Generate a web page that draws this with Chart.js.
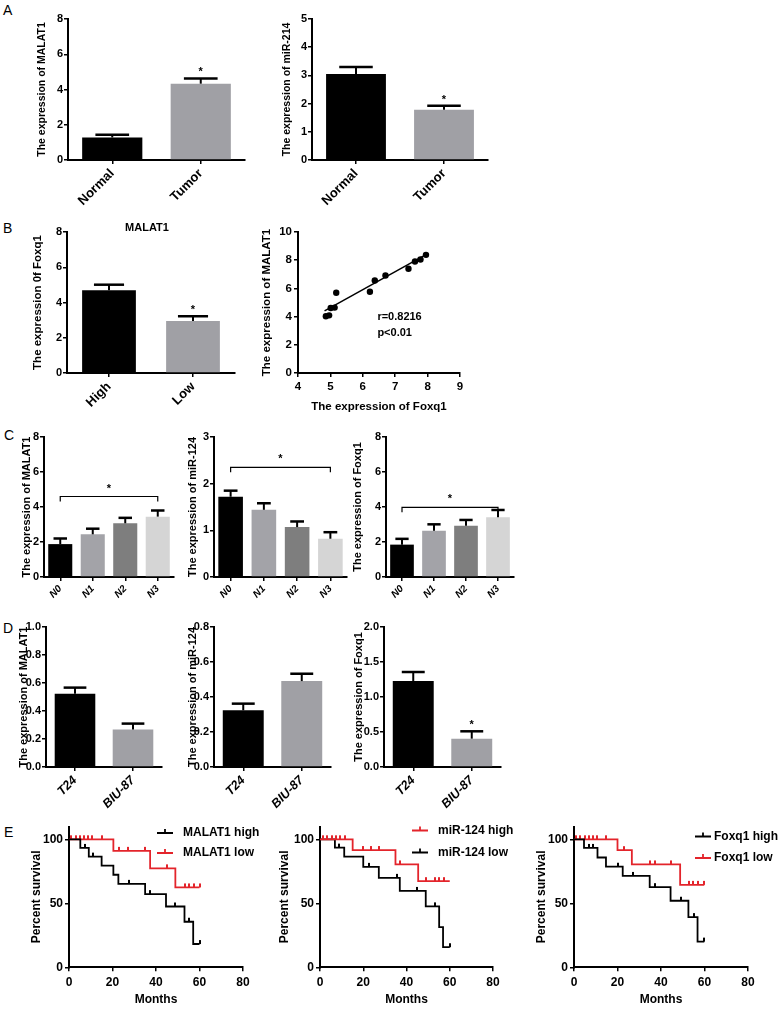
<!DOCTYPE html>
<html>
<head>
<meta charset="utf-8">
<title>MALAT1 / miR-124 / Foxq1</title>
<script src="https://cdn.jsdelivr.net/npm/chart.js@4.4.1/dist/chart.umd.min.js"></script>
<style>
  html, body { margin: 0; padding: 0; background: #fff; }
  #fig { position: relative; width: 780px; height: 1012px; overflow: hidden; background: #fff; }
  #fig canvas { position: absolute; }
  .tag { position: absolute; font-family: "Liberation Sans", Arial, sans-serif; font-size: 14px; line-height: 14px; color: #000; }
</style>
</head>
<body>
<div id="fig">
  <div class="tag" style="left:3px;top:3px">A</div>
  <div class="tag" style="left:3px;top:221px">B</div>
  <div class="tag" style="left:4px;top:428px">C</div>
  <div class="tag" style="left:3px;top:621px">D</div>
  <div class="tag" style="left:4px;top:825px">E</div>
</div>
<script>
// ---- A: tissue expression
var aLabels = ['Normal', 'Tumor'];
var aMalat1 = [1.28, 4.33];
var aMalat1Err = [0.15, 0.30];
var aMir214 = [3.05, 1.78];
var aMir214Err = [0.25, 0.14];

// ---- B: MALAT1 high / low and correlation
var bLabels = ['High', 'Low'];
var bFoxq1 = [4.69, 2.95];
var bFoxq1Err = [0.32, 0.27];
var bScatterX = [4.86, 4.96, 5.01, 5.13, 5.18, 6.22, 6.37, 6.70, 7.41, 7.61, 7.78, 7.95];
var bScatterY = [4.02, 4.09, 4.61, 4.64, 5.69, 5.76, 6.56, 6.92, 7.39, 7.91, 8.05, 8.38];
var bFitX = [4.82, 7.99];
var bFitY = [4.40, 8.45];
var bStats = ['r=0.8216', 'p<0.01'];

// ---- C: N stage
var cLabels = ['N0', 'N1', 'N2', 'N3'];
var cMalat1 = [1.88, 2.44, 3.07, 3.45];
var cMalat1Err = [0.32, 0.32, 0.31, 0.35];
var cMir124 = [1.72, 1.44, 1.07, 0.82];
var cMir124Err = [0.13, 0.14, 0.12, 0.14];
var cFoxq1 = [1.85, 2.65, 2.93, 3.41];
var cFoxq1Err = [0.33, 0.36, 0.33, 0.42];
var cBracket = [4.6, 2.35, 3.98];

// ---- D: cell lines
var dLabels = ['T24', 'BIU-87'];
var dMalat1 = [0.524, 0.267];
var dMalat1Err = [0.043, 0.043];
var dMir124 = [0.324, 0.491];
var dMir124Err = [0.038, 0.042];
var dFoxq1 = [1.229, 0.405];
var dFoxq1Err = [0.128, 0.105];

// ---- E: survival (time in months, percent survival)
var kmYTicks = [0, 50, 100];
var e1HighT = [0, 5.2, 9.1, 15.0, 20.4, 22.7, 35.0, 44.6, 53.1, 57.1, 60];
var e1HighS = [100, 93.3, 86.5, 79.5, 72.3, 65.2, 57.2, 47.5, 35.6, 18.2, 18.2];
var e1HighCensT = [7.3, 11.1, 27.6, 37.3, 48.9, 55.1, 60];
var e1HighCensS = [93.3, 86.5, 65.2, 57.2, 47.5, 35.6, 18.2];
var e1LowT = [0, 20.4, 37.3, 48.9, 60];
var e1LowS = [100, 91.0, 77.3, 62.4, 62.4];
var e1LowCensT = [1.1, 3.1, 4.9, 6.9, 8.8, 10.8, 15.0, 23.0, 27.3, 35.0, 45.0, 53.2, 55.2, 57.4, 60];
var e1LowCensS = [100, 100, 100, 100, 100, 100, 100, 91.0, 91.0, 91.0, 77.3, 62.4, 62.4, 62.4, 62.4];

var e2HighT = [0, 15.1, 34.9, 45.4, 60];
var e2HighS = [100, 91.6, 80.4, 67.3, 67.3];
var e2HighCensT = [1.2, 3.4, 5.5, 7.4, 9.2, 11.5, 20.0, 23.8, 27.4, 37.2, 49.2, 53.1, 55.1, 57.2];
var e2HighCensS = [100, 100, 100, 100, 100, 100, 91.6, 91.6, 91.6, 80.4, 67.3, 67.3, 67.3, 67.3];
var e2LowT = [0, 6.9, 11.2, 20.0, 27.2, 36.9, 48.9, 55.1, 56.9, 60];
var e2LowS = [100, 93.5, 86.4, 78.5, 69.9, 59.7, 47.6, 31.4, 15.7, 15.7];
var e2LowCensT = [8.9, 22.8, 35.4, 44.9, 53.1, 60];
var e2LowCensS = [93.5, 78.5, 69.9, 59.7, 47.6, 15.7];

var e3HighT = [0, 4.6, 10.8, 14.7, 22.4, 34.8, 44.4, 52.6, 56.8, 59.9];
var e3HighS = [100, 93.3, 85.8, 78.6, 71.4, 62.6, 52.0, 39.2, 20.1, 20.1];
var e3HighCensT = [7.0, 8.8, 20.0, 26.9, 37.1, 49.0, 55.0, 59.9];
var e3HighCensS = [93.3, 93.3, 78.6, 71.4, 62.6, 52.0, 39.2, 20.1];
var e3LowT = [0, 20.0, 26.6, 48.8, 59.9];
var e3LowS = [100, 91.5, 80.4, 64.4, 64.4];
var e3LowCensT = [1.1, 2.9, 4.9, 6.8, 8.8, 10.8, 14.7, 22.8, 35.1, 37.1, 44.7, 52.9, 54.9, 57.1, 59.9];
var e3LowCensS = [100, 100, 100, 100, 100, 100, 100, 91.5, 80.4, 80.4, 80.4, 64.4, 64.4, 64.4, 64.4];

var BLACK = '#000000';
var GREY = '#a0a0a5';
var RED = '#e3242b';
var cColors = ['#000000', '#a3a3a8', '#7e7e7e', '#d5d5d5'];
var FONT = '"Liberation Sans", Arial, sans-serif';
var NARROW = '"Liberation Sans Narrow", "Arial Narrow", "Liberation Sans", Arial, sans-serif';

Chart.defaults.font.family = FONT;
Chart.defaults.font.weight = 'bold';
Chart.defaults.font.size = 11;
Chart.defaults.color = '#000';

// error bars, stars, brackets, small titles, KM legends, stat text
var panelExtras = {
  id: 'panelExtras',
  afterDatasetsDraw: function(chart, args, opts) {
    var ctx = chart.ctx, area = chart.chartArea;
    var ys = chart.scales.y, xs = chart.scales.x;
    ctx.save();
    ctx.strokeStyle = '#000';
    ctx.fillStyle = '#000';
    ctx.textAlign = 'center';
    ctx.font = 'bold 11px ' + FONT;
    if (opts.err) {
      var bars = chart.getDatasetMeta(0).data;
      var vals = chart.data.datasets[0].data;
      for (var i = 0; i < bars.length; i++) {
        var b = bars[i];
        var y0 = ys.getPixelForValue(vals[i]);
        var y1 = ys.getPixelForValue(vals[i] + opts.err[i]);
        var half = b.width * 0.28;
        ctx.lineWidth = 2;
        ctx.beginPath(); ctx.moveTo(b.x, y0); ctx.lineTo(b.x, y1); ctx.stroke();
        ctx.lineWidth = 2.5;
        ctx.beginPath(); ctx.moveTo(b.x - half, y1); ctx.lineTo(b.x + half, y1); ctx.stroke();
        if (opts.stars && opts.stars[i]) ctx.fillText('*', b.x, y1 - 3);
      }
      if (opts.bracket) {
        var yb = ys.getPixelForValue(opts.bracket);
        var xa = bars[0].x, xb = bars[bars.length - 1].x;
        ctx.lineWidth = 1.2;
        ctx.beginPath();
        ctx.moveTo(xa, yb + 5); ctx.lineTo(xa, yb); ctx.lineTo(xb, yb); ctx.lineTo(xb, yb + 5);
        ctx.stroke();
        ctx.fillText('*', (xa + xb) / 2, yb - 5);
      }
    }
    if (opts.title) ctx.fillText(opts.title, (area.left + area.right) / 2 - 4, area.top - 1);
    if (opts.stat) {
      ctx.textAlign = 'left';
      ctx.textBaseline = 'middle';
      for (var s = 0; s < opts.stat.length; s++) {
        ctx.fillText(opts.stat[s], xs.getPixelForValue(opts.statX), ys.getPixelForValue(opts.statY[s]));
      }
    }
    if (opts.legend) {
      ctx.textAlign = 'left';
      ctx.textBaseline = 'middle';
      ctx.font = 'bold 12px ' + FONT;
      for (var k = 0; k < opts.legend.length; k++) {
        var lx = area.left + opts.legendX, ly = area.top + opts.legendY[k];
        ctx.strokeStyle = opts.legendColors[k];
        ctx.lineWidth = 1.8;
        ctx.beginPath();
        ctx.moveTo(lx, ly); ctx.lineTo(lx + 16, ly);
        ctx.moveTo(lx + 8, ly); ctx.lineTo(lx + 8, ly - 4);
        ctx.stroke();
        ctx.fillStyle = '#000';
        ctx.fillText(opts.legend[k], lx + opts.legendTextDx, ly);
      }
    }
    ctx.restore();
  }
};
Chart.register(panelExtras);

function axisGrid() {
  return { offset: false, drawOnChartArea: false, drawTicks: true, tickLength: 4, color: '#000', lineWidth: 1.5 };
}
function axisBorder() {
  return { display: true, color: '#000', width: 2 };
}

// put a chart on the page so that its plot area lands on plot = [left, top, right, bottom]
function place(box, plot, ytx, xty, config) {
  var cv = document.createElement('canvas');
  cv.width = box[2];
  cv.height = box[3];
  cv.style.left = box[0] + 'px';
  cv.style.top = box[1] + 'px';
  document.getElementById('fig').appendChild(cv);
  var sc = config.options.scales;
  config.options.layout = { padding: { left: 0, top: plot[1] - box[1], right: box[0] + box[2] - plot[2], bottom: 0 } };
  sc.y.afterFit = function(s) { s.width = plot[0] - box[0]; };
  sc.x.afterFit = function(s) { s.height = box[1] + box[3] - plot[3]; };
  sc.y.title.padding = { top: ytx - box[0] - sc.y.title.font.size * 0.6, bottom: 0 };
  if (xty) {
    sc.x.title.padding = { top: 0, bottom: box[1] + box[3] - xty - sc.x.title.font.size * 0.6 };
  }
  return new Chart(cv, config);
}

// f = [tick font, category font, title font]
function barChart(labels, values, errs, colors, yMax, yStep, dec, yTitle, f, extra) {
  return {
    type: 'bar',
    data: {
      labels: labels,
      datasets: [{ data: values, backgroundColor: colors, borderWidth: 0, categoryPercentage: 1, barPercentage: extra.bp }]
    },
    options: {
      responsive: false, animation: false, devicePixelRatio: 1, events: [],
      plugins: {
        legend: { display: false }, tooltip: { enabled: false },
        panelExtras: { err: errs, stars: extra.stars, bracket: extra.bracket, title: extra.title }
      },
      scales: {
        x: {
          grid: axisGrid(), border: axisBorder(),
          ticks: { autoSkip: false, minRotation: 45, maxRotation: 45, padding: 2, font: { size: f[1], style: extra.italic ? 'italic' : 'normal' } }
        },
        y: {
          min: 0, max: yMax, grid: axisGrid(), border: axisBorder(),
          ticks: { stepSize: yStep, padding: 1, font: { size: f[0], family: extra.narrow ? NARROW : FONT }, callback: function(v) { return v.toFixed(dec); } },
          title: { display: true, text: yTitle, font: { size: f[2] } }
        }
      }
    }
  };
}

function tickMark(color) {
  var c = document.createElement('canvas');
  c.width = 2; c.height = 12;
  var g = c.getContext('2d');
  g.fillStyle = color;
  g.fillRect(0, 2, 2, 4);
  return c;
}
function pairs(xs, ys) {
  return xs.map(function(v, i) { return { x: v, y: ys[i] }; });
}
function kmCurve(t, s, color) {
  return { data: pairs(t, s), showLine: true, stepped: 'before', borderColor: color, borderWidth: 1.8, pointRadius: 0, pointHoverRadius: 0 };
}
function kmCensor(t, s, color) {
  return { data: pairs(t, s), showLine: false, pointStyle: tickMark(color), pointRadius: 3, pointHoverRadius: 3 };
}
function kmChart(datasets, legend, legendColors, lx, ly, ldx) {
  return {
    type: 'scatter',
    data: { datasets: datasets },
    options: {
      responsive: false, animation: false, devicePixelRatio: 1, events: [],
      plugins: {
        legend: { display: false }, tooltip: { enabled: false },
        panelExtras: { legend: legend, legendColors: legendColors, legendX: lx, legendY: ly, legendTextDx: ldx }
      },
      scales: {
        x: {
          type: 'linear', min: 0, max: 80, grid: axisGrid(), border: axisBorder(),
          ticks: { stepSize: 20, padding: 4, font: { size: 12 } },
          title: { display: true, text: 'Months', font: { size: 12 } }
        },
        y: {
          min: 0, max: 110, grid: axisGrid(), border: axisBorder(),
          ticks: { padding: 2, font: { size: 12 } },
          afterBuildTicks: function(s) { s.ticks = kmYTicks.map(function(v) { return { value: v }; }); },
          title: { display: true, text: 'Percent survival', font: { size: 12 } }
        }
      }
    }
  };
}

// ---- A
place([0, 0, 260, 215], [68, 19, 245, 160], 42, 0,
  barChart(aLabels, aMalat1, aMalat1Err, [BLACK, GREY], 8, 2, 0, 'The expression of MALAT1', [11, 13, 10.5], { bp: 0.68, stars: [false, true] }));
place([250, 0, 260, 215], [312, 19, 488, 160], 287, 0,
  barChart(aLabels, aMir214, aMir214Err, [BLACK, GREY], 5, 1, 0, 'The expression of miR-214', [11, 13, 10.5], { bp: 0.68, stars: [false, true] }));

// ---- B
place([0, 215, 255, 205], [67, 232, 235, 373], 38, 0,
  barChart(bLabels, bFoxq1, bFoxq1Err, [BLACK, GREY], 8, 2, 0, 'The expression 0f Foxq1', [11, 13, 11.5], { bp: 0.64, stars: [false, true], title: 'MALAT1' }));
place([250, 215, 230, 205], [298, 232, 460, 373], 267, 407, {
  type: 'scatter',
  data: {
    datasets: [
      { data: pairs(bScatterX, bScatterY), backgroundColor: BLACK, borderWidth: 0, pointRadius: 3.2 },
      { data: pairs(bFitX, bFitY), showLine: true, borderColor: BLACK, borderWidth: 1.5, pointRadius: 0 }
    ]
  },
  options: {
    responsive: false, animation: false, devicePixelRatio: 1, events: [],
    plugins: {
      legend: { display: false }, tooltip: { enabled: false },
      panelExtras: { stat: bStats, statX: 6.45, statY: [3.95, 2.83] }
    },
    scales: {
      x: {
        type: 'linear', min: 4, max: 9, grid: axisGrid(), border: axisBorder(),
        ticks: { stepSize: 1, padding: 3, font: { size: 11.5 } },
        title: { display: true, text: 'The expression of Foxq1', font: { size: 11.5 } }
      },
      y: {
        min: 0, max: 10, grid: axisGrid(), border: axisBorder(),
        ticks: { stepSize: 2, padding: 2, font: { size: 11.5 } },
        title: { display: true, text: 'The expression of MALAT1', font: { size: 11.5 } }
      }
    }
  }
});

// ---- C
place([0, 425, 190, 190], [44, 437, 174, 577], 27, 0,
  barChart(cLabels, cMalat1, cMalat1Err, cColors, 8, 2, 0, 'The expression of MALAT1', [11, 10, 11], { bp: 0.74, italic: true, narrow: true, bracket: cBracket[0] }));
place([170, 425, 190, 190], [214, 437, 347, 577], 193, 0,
  barChart(cLabels, cMir124, cMir124Err, cColors, 3, 1, 0, 'The expression of miR-124', [11, 10, 11], { bp: 0.74, italic: true, narrow: true, bracket: cBracket[1] }));
place([340, 425, 190, 190], [386, 437, 514, 577], 358, 0,
  barChart(cLabels, cFoxq1, cFoxq1Err, cColors, 8, 2, 0, 'The expression of Foxq1', [11, 10, 11], { bp: 0.74, italic: true, narrow: true, bracket: cBracket[2] }));

// ---- D
place([0, 615, 180, 200], [46, 627, 162, 767], 24, 0,
  barChart(dLabels, dMalat1, dMalat1Err, [BLACK, GREY], 1.0, 0.2, 1, 'The expression of MALAT1', [11, 12.5, 11], { bp: 0.7, italic: true, narrow: true }));
place([170, 615, 180, 200], [214, 627, 331, 767], 193, 0,
  barChart(dLabels, dMir124, dMir124Err, [BLACK, GREY], 0.8, 0.2, 1, 'The expression of miR-124', [11, 12.5, 11], { bp: 0.7, italic: true, narrow: true }));
place([340, 615, 180, 200], [384, 627, 501, 767], 359, 0,
  barChart(dLabels, dFoxq1, dFoxq1Err, [BLACK, GREY], 2.0, 0.5, 1, 'The expression of Foxq1', [11, 12.5, 11], { bp: 0.7, italic: true, narrow: true, stars: [false, true] }));

// ---- E
place([0, 815, 262, 197], [69, 826.5, 243, 967.3], 37, 1000,
  kmChart([
    kmCurve(e1HighT, e1HighS, BLACK), kmCensor(e1HighCensT, e1HighCensS, BLACK),
    kmCurve(e1LowT, e1LowS, RED), kmCensor(e1LowCensT, e1LowCensS, RED)
  ], ['MALAT1 high', 'MALAT1 low'], [BLACK, RED], 88, [6.5, 26.5], 26));
place([262, 815, 270, 197], [320, 826.5, 493, 967.3], 285, 1000,
  kmChart([
    kmCurve(e2HighT, e2HighS, RED), kmCensor(e2HighCensT, e2HighCensS, RED),
    kmCurve(e2LowT, e2LowS, BLACK), kmCensor(e2LowCensT, e2LowCensS, BLACK)
  ], ['miR-124 high', 'miR-124 low'], [RED, BLACK], 92, [4, 26], 26));
place([515, 815, 265, 197], [574, 826.5, 748, 967.3], 542, 1000,
  kmChart([
    kmCurve(e3HighT, e3HighS, BLACK), kmCensor(e3HighCensT, e3HighCensS, BLACK),
    kmCurve(e3LowT, e3LowS, RED), kmCensor(e3LowCensT, e3LowCensS, RED)
  ], ['Foxq1 high', 'Foxq1 low'], [BLACK, RED], 121, [10, 31.5], 19));
</script>
</body>
</html>
